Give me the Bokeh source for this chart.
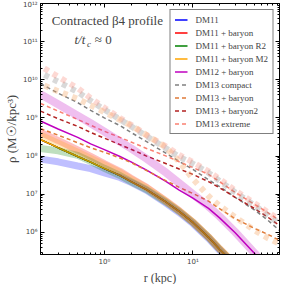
from bokeh.plotting import figure
from bokeh.models import (Legend, LegendItem, Label, LogAxis, CustomJSTickFormatter,
                          FixedTicker, Range1d, Title)
from bokeh.embed import file_html
from bokeh.resources import INLINE

# ---------------- data (log10 of density in Msun/kpc^3) ----------------
r_dm11 = [0.19, 0.3, 0.5, 0.7, 1.0, 1.5, 2, 3, 5, 7, 10, 15, 20, 30]
model_dm11 = [8.43, 8.22, 7.99, 7.84, 7.67, 7.49, 7.33, 7.12, 6.79, 6.55, 6.26, 5.87, 5.56, 5.15]
sim_dm11 = [7.92, 7.85, 7.74, 7.67, 7.56, 7.44, 7.31, 7.10, 6.76, 6.52, 6.23, 5.84, 5.53, 5.12]
sim_dm11_baryon = [8.62, 8.41, 8.16, 7.99, 7.80, 7.60, 7.42, 7.18, 6.82, 6.57, 6.27, 5.88, 5.57, 5.16]
sim_dm11_r2 = [8.20, 8.14, 8.02, 7.86, 7.68, 7.49, 7.33, 7.12, 6.79, 6.55, 6.26, 5.87, 5.56, 5.15]
sim_dm11_m2 = [8.55, 8.34, 8.10, 7.94, 7.77, 7.57, 7.40, 7.17, 6.81, 6.56, 6.27, 5.88, 5.57, 5.16]

r_dm12 = [0.19, 0.3, 0.5, 0.7, 1, 1.5, 2, 3, 5, 7, 10, 15, 20, 30, 50, 70]
model_dm12 = [8.92, 8.71, 8.49, 8.32, 8.17, 7.99, 7.85, 7.63, 7.33, 7.11, 6.90, 6.63, 6.38, 5.99, 5.44, 5.05]
sim_dm12 = [9.62, 9.36, 9.06, 8.86, 8.64, 8.38, 8.20, 7.93, 7.56, 7.29, 7.00, 6.68, 6.42, 6.01, 5.45, 5.05]

r_dm13 = [0.19, 0.3, 0.5, 0.7, 1, 1.5, 2, 3, 5, 7, 10, 15, 20, 30, 50, 70, 95]
model_dm13_compact = [9.90, 9.65, 9.40, 9.20, 9.00, 8.80, 8.62, 8.38, 8.07, 7.86, 7.65, 7.38, 7.20, 6.92, 6.58, 6.32, 6.05]
model_dm13_baryon = [8.72, 8.55, 8.35, 8.22, 8.10, 7.95, 7.83, 7.62, 7.35, 7.18, 7.02, 6.82, 6.62, 6.36, 6.10, 5.95, 5.79]
model_dm13_baryon2 = [9.18, 8.98, 8.78, 8.62, 8.47, 8.30, 8.18, 8.00, 7.80, 7.66, 7.52, 7.33, 7.17, 6.92, 6.62, 6.40, 6.18]
model_dm13_extreme = [9.38, 9.18, 8.96, 8.81, 8.65, 8.49, 8.37, 8.20, 8.00, 7.85, 7.70, 7.52, 7.33, 7.05, 6.73, 6.52, 6.31]

r_sim13 = [0.21, 0.3, 0.5, 0.7, 1, 1.5, 2, 3, 5, 7, 10, 15, 20, 30, 50, 70, 95]
sim_dm13_compact = [10.13, 9.95, 9.68, 9.45, 9.22, 8.96, 8.78, 8.52, 8.20, 7.98, 7.80, 7.56, 7.35, 7.05, 6.70, 6.45, 6.23]
sim_dm13_extreme = [10.30, 10.08, 9.78, 9.52, 9.27, 9.00, 8.82, 8.55, 8.25, 8.03, 7.84, 7.60, 7.40, 7.10, 6.76, 6.53, 6.33]
sim_dm13_baryon = [9.85, 9.70, 9.50, 9.33, 9.15, 8.95, 8.80, 8.55, 8.22, 7.85, 7.40, 6.95, 6.70, 6.40, 6.05, 5.85, 5.70]

y_ticks = [1e6, 1e7, 1e8, 1e9, 1e10, 1e11, 1e12]
x_ticks = [1, 10]


def lin(vals):
    return [10 ** v for v in vals]


p = figure(width=282, height=284, x_axis_type="log", y_axis_type="log",
           x_range=Range1d(0.19, 95), y_range=Range1d(10 ** 5.42, 1e12),
           output_backend="svg", toolbar_location=None,
           min_border_left=30, min_border_right=3, min_border_top=3, min_border_bottom=29)
p.xgrid.visible = False
p.ygrid.visible = False
p.outline_line_color = "black"
p.outline_line_width = 1
p.background_fill_color = "white"

fmt = CustomJSTickFormatter(code="""
const sup = {'0':'\u2070','1':'\u00b9','2':'\u00b2','3':'\u00b3','4':'\u2074','5':'\u2075','6':'\u2076','7':'\u2077','8':'\u2078','9':'\u2079','-':'\u207b'};
const e = Math.round(Math.log10(tick));
return '10' + String(e).split('').map(c => sup[c]).join('');
""")

yminor = [m * 10 ** e for e in range(5, 12) for m in range(2, 10)]
xminor = [m * 10 ** e for e in range(-1, 2) for m in range(2, 10)]


def style_axis(ax, ticks, minor, labels=True):
    ax.ticker = FixedTicker(ticks=ticks, minor_ticks=minor)
    ax.major_tick_in = 4
    ax.major_tick_out = 0
    ax.minor_tick_in = 2
    ax.minor_tick_out = 0
    ax.axis_line_color = "black"
    ax.major_tick_line_color = "black"
    ax.minor_tick_line_color = "black"
    if labels:
        ax.formatter = fmt
        ax.major_label_text_font = "DejaVu Sans"
        ax.major_label_text_font_size = "7px"
        ax.major_label_standoff = 3
    else:
        ax.major_label_text_color = None
        ax.major_label_text_alpha = 0
        ax.major_label_text_font_size = "1px"
        ax.major_label_standoff = 0


style_axis(p.yaxis[0], y_ticks, yminor)
style_axis(p.xaxis[0], x_ticks, xminor)
p.yaxis[0].axis_label = "\u03c1 (M\u2609/kpc\u00b3)"
p.yaxis[0].axis_label_text_font = "Liberation Serif"
p.yaxis[0].axis_label_text_font_style = "normal"
p.yaxis[0].axis_label_text_font_size = "13px"
p.yaxis[0].axis_label_standoff = 1

ry = LogAxis()
style_axis(ry, y_ticks, yminor, labels=False)
p.add_layout(ry, "right")
tx = LogAxis()
style_axis(tx, x_ticks, xminor, labels=False)
p.add_layout(tx, "above")

# x-axis title as a panel title under the axis
p.add_layout(Title(text="r (kpc)", align="center", text_font="Liberation Serif",
                   text_font_size="12px", text_font_style="normal", standoff=0,
                   offset=0), "below")

BLUE, RED, GREEN, ORANGE, MAG = "#0000ff", "#ff0000", "#008000", "#ffa500", "#bf00bf"
GRAY, PERU, FIRE, SALMON = "#808080", "#e07b39", "#b22222", "#fa8072"

# thin model curves (drawn first, under the translucent simulation bands)
l_dm11 = p.line(r_dm11, lin(model_dm11), line_color=BLUE, line_width=1.5)
l_bar = p.line(r_dm11, lin(model_dm11), line_color=RED, line_width=1.5)
l_r2 = p.line(r_dm11, lin(model_dm11), line_color=GREEN, line_width=1.5)
l_m2 = p.line(r_dm11, lin(model_dm11), line_color=ORANGE, line_width=1.5)
l_12 = p.line(r_dm12, lin(model_dm12), line_color=MAG, line_width=1.5)
l_c = p.line(r_dm13, lin(model_dm13_compact), line_color=GRAY, line_width=1.5, line_dash="4 3")
l_b = p.line(r_dm13, lin(model_dm13_baryon), line_color=PERU, line_width=1.5, line_dash="4 3")
l_b2 = p.line(r_dm13, lin(model_dm13_baryon2), line_color=FIRE, line_width=1.5, line_dash="4 3")
l_e = p.line(r_dm13, lin(model_dm13_extreme), line_color=SALMON, line_width=1.5, line_dash="4 3")

# thick translucent simulation curves
for vals, c in [(sim_dm11, BLUE), (sim_dm11_baryon, RED), (sim_dm11_r2, GREEN), (sim_dm11_m2, ORANGE)]:
    p.line(r_dm11, lin(vals), line_color=c, line_width=7, line_alpha=0.25)
p.line(r_dm12, lin(sim_dm12), line_color=MAG, line_width=8, line_alpha=0.25)
for vals, c, a in [(sim_dm13_compact, GRAY, 0.3), (sim_dm13_extreme, SALMON, 0.3), (sim_dm13_baryon, "#f4a460", 0.35)]:
    p.line(r_sim13, lin(vals), line_color=c, line_width=6, line_alpha=a, line_dash="5 5")

legend = Legend(items=[
    LegendItem(label="DM11", renderers=[l_dm11]),
    LegendItem(label="DM11 + baryon", renderers=[l_bar]),
    LegendItem(label="DM11 + baryon R2", renderers=[l_r2]),
    LegendItem(label="DM11 + baryon M2", renderers=[l_m2]),
    LegendItem(label="DM12 + baryon", renderers=[l_12]),
    LegendItem(label="DM13 compact", renderers=[l_c]),
    LegendItem(label="DM13 + baryon", renderers=[l_b]),
    LegendItem(label="DM13 + baryon2", renderers=[l_b2]),
    LegendItem(label="DM13 extreme", renderers=[l_e]),
], location="top_right")
legend.label_text_font = "Liberation Serif"
legend.label_text_font_size = "9px"
legend.glyph_width = 13
legend.glyph_height = 11
legend.label_height = 11
legend.spacing = 2
legend.padding = 4
legend.margin = 6
legend.label_standoff = 8
legend.border_line_color = "black"
legend.border_line_width = 1
legend.background_fill_alpha = 1
p.add_layout(legend)

# title texts (data coordinates)
p.add_layout(Label(x=1.08, y=10 ** 11.55, text="Contracted \u03b24 profile",
                   text_font="Liberation Serif", text_font_size="13px", text_align="center",
                   text_baseline="middle"))
p.add_layout(Label(x=0.46, y=10 ** 11.05, text="t/t",
                   text_font="Liberation Serif", text_font_style="italic", text_font_size="13px",
                   text_align="left", text_baseline="middle"))
p.add_layout(Label(x=0.635, y=10 ** 10.94, text="c",
                   text_font="Liberation Serif", text_font_style="italic", text_font_size="9px",
                   text_align="left", text_baseline="middle"))
p.add_layout(Label(x=0.78, y=10 ** 11.05, text="\u2248 0",
                   text_font="Liberation Serif", text_font_size="13px",
                   text_align="left", text_baseline="middle"))

open("out.html", "w").write(file_html(p, INLINE))
